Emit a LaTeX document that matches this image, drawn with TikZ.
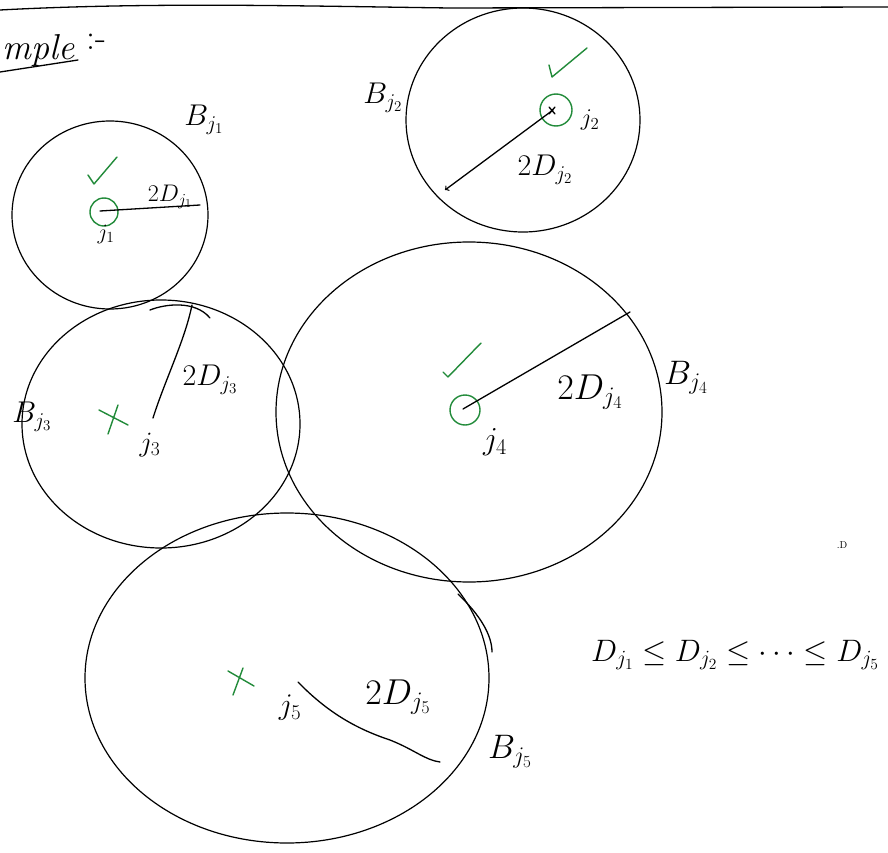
\RequirePackage{fix-cm}
\documentclass[tikz,border=0pt]{standalone}
\usetikzlibrary{shapes.geometric}
\definecolor{sgreen}{RGB}{34,139,58}
\newcommand{\fs}[1]{\fontsize{#1}{#1}\selectfont}
\begin{document}
\begin{tikzpicture}[x=1pt,y=-1pt,
  ink/.style={line width=1.3pt, draw=black, line cap=round, line join=round},
  gink/.style={line width=1.4pt, draw=sgreen, line cap=round, line join=round},
  lbl/.style={inner sep=0pt},
  ball/.style={draw=black, ellipse, line width=1.2pt, inner sep=0pt, outer sep=0pt},
  gring/.style={draw=sgreen, circle, line width=1.4pt, inner sep=0pt}]
\useasboundingbox (0,0) rectangle (888,853);
\clip (0,0) rectangle (888,853);
\fill[white] (0,0) rectangle (888,853);

% top rule and heading
\draw[ink] (0,10) .. controls (150,2) and (300,6) .. (450,8) -- (888,7);
\node[lbl, font=\fs{36}\itshape, anchor=base west] (title) at (2,60) {mple};
\draw[ink] (0,72) -- (78,60);
\node[lbl, font=\fs{36}, anchor=base west] (colon) at (86,50) {:-};

% balls
\node[ball, minimum width=196pt, minimum height=188pt] (B1) at (110,215) {};
\node[ball, minimum width=234pt, minimum height=224pt] (B2) at (523,120) {};
\node[ball, minimum width=278pt, minimum height=248pt] (B3) at (161,424) {};
\node[ball, minimum width=386pt, minimum height=340pt] (B4) at (469,412) {};
\node[ball, minimum width=404pt, minimum height=330pt] (B5) at (287,678) {};
\draw[ink] (458,594) .. controls (480,615) and (492,635) .. (492,652);
\draw[ink] (150,310) .. controls (165,304) and (195,300) .. (210,318);

% ball labels
\node[lbl, font=\fs{30}] (LB1) at (204,120) {$B_{j_1}$};
\node[lbl, font=\fs{30}] (LB2) at (383,98) {$B_{j_2}$};
\node[lbl, font=\fs{30}] (LB3) at (32,417) {$B_{j_3}$};
\node[lbl, font=\fs{34}] (LB4) at (686,378) {$B_{j_4}$};
\node[lbl, font=\fs{34}] (LB5) at (510,752) {$B_{j_5}$};

% j1
\coordinate (p1) at (100,211);
\coordinate (e1) at (200,205);
\node[gring, minimum size=28pt] (g1) at (104,212) {};
\draw[ink] (p1) -- (e1);
\draw[gink] (88,175) -- (94,184) -- (117,157);
\node[lbl, font=\fs{22}] (j1) at (106,234) {$j_1$};
\node[lbl, font=\fs{24}] (r1) at (170,197) {$2D_{j_1}$};

% j2
\coordinate (p2) at (553,110);
\coordinate (e2) at (445,190);
\node[gring, minimum size=32pt] (g2) at (556,110) {};
\draw[ink] (549,107) -- (555,114) (555,107) -- (549,114);
\draw[ink, ->] (p2) -- (e2);
\draw[gink] (549,65) -- (552,77) -- (587,48);
\node[lbl, font=\fs{24}] (j2) at (590,120) {$j_2$};
\node[lbl, font=\fs{30}] (r2) at (545,170) {$2D_{j_2}$};

% j3
\coordinate (p3) at (153,418);
\coordinate (e3) at (192,305);
\draw[gink] (99,410) -- (128,425) (118,405) -- (108,434);
\draw[ink] (p3) .. controls (165,380) and (185,340) .. (e3);
\node[lbl, font=\fs{28}] (j3) at (150,445) {$j_3$};
\node[lbl, font=\fs{30}] (r3) at (210,380) {$2D_{j_3}$};

% j4
\coordinate (p4) at (463,409);
\coordinate (e4) at (630,312);
\node[gring, minimum size=30pt] (g4) at (465,410) {};
\draw[ink] (p4) -- (e4);
\draw[gink] (443,372) -- (448,377) -- (481,343);
\node[lbl, font=\fs{32}] (j4) at (495,442) {$j_4$};
\node[lbl, font=\fs{36}] (r4) at (590,392) {$2D_{j_4}$};

% j5
\coordinate (p5) at (298,682);
\coordinate (e5) at (440,762);
\draw[gink] (228,671) -- (254,686) (243,668) -- (233,695);
\draw[ink] (p5) .. controls (330,715) and (360,730) .. (390,740) .. controls (415,750) and (425,760) .. (e5);
\node[lbl, font=\fs{30}] (j5) at (290,708) {$j_5$};
\node[lbl, font=\fs{36}] (r5) at (398,697) {$2D_{j_5}$};

% misc
\node[lbl, font=\fs{10}] (dot) at (842,545) {.D};
\node[lbl, font=\fs{31}] (rel) at (735,655) {$D_{j_1}\le D_{j_2}\le\cdots\le D_{j_5}$};
\end{tikzpicture}
\end{document}
